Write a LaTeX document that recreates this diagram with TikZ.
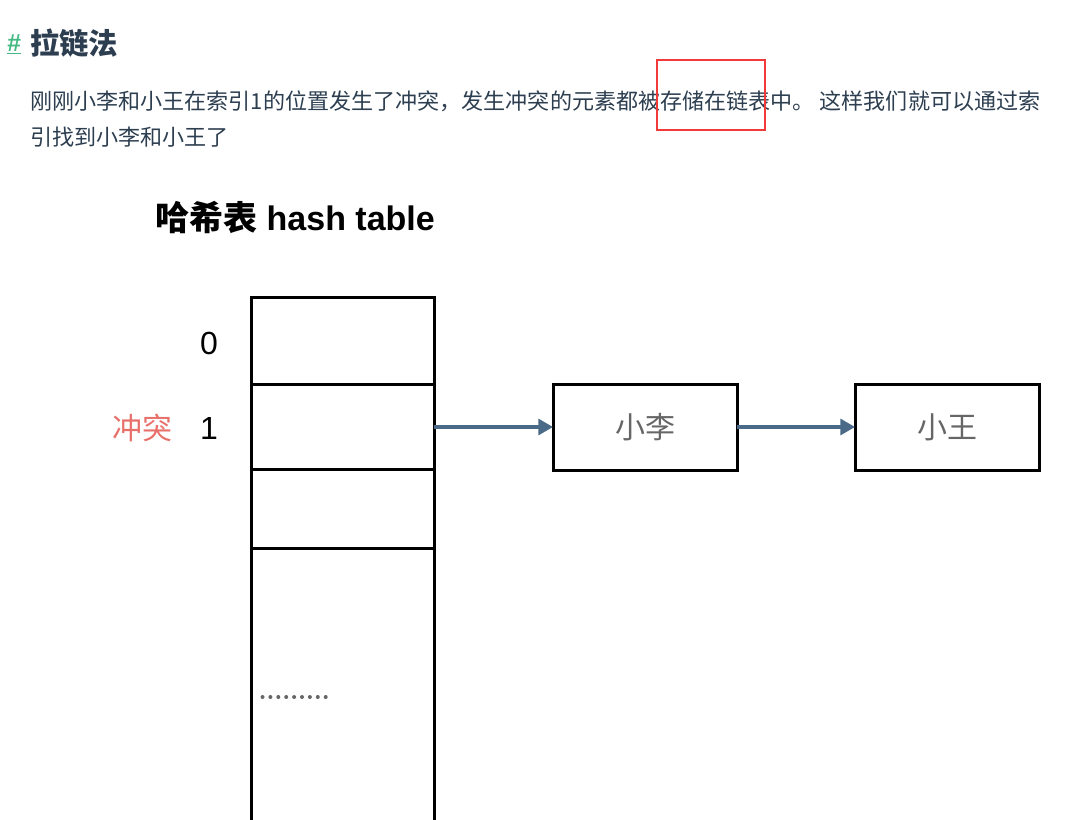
\documentclass[tikz,border=0pt]{standalone}
\usepackage{fontspec}
\setmainfont{Liberation Sans}
\newfontfamily\cjk{Noto Sans CJK SC}
\usetikzlibrary{arrows.meta}
\definecolor{txt}{HTML}{2C3E50}
\definecolor{vgreen}{HTML}{42B983}
\definecolor{hlred}{HTML}{F23A3A}
\definecolor{conflict}{HTML}{E8706A}
\definecolor{arr}{HTML}{4B6A88}
\definecolor{boxtext}{HTML}{666666}
\definecolor{dotgray}{HTML}{666666}
\begin{document}
\begin{tikzpicture}[x=0.75pt,y=-0.75pt,
  cell/.style={draw, line width=2.25pt, minimum width=137.25pt, inner sep=0pt, outer sep=0pt},
  listbox/.style={draw, line width=2.25pt, minimum width=138pt, minimum height=64.5pt,
    inner sep=0pt, outer sep=0pt, text=boxtext, font=\cjk\fontsize{22.5}{26}\selectfont},
  link/.style={draw=arr, line width=2.4pt, -{Triangle[length=11pt,width=12pt]}},
  para/.style={anchor=west, inner sep=0pt, text=txt, font=\cjk\fontsize{16.55}{20}\selectfont},
  idx/.style={inner sep=0pt, font=\fontsize{24}{28}\selectfont}]
\useasboundingbox (0,0) rectangle (1070,820);
\clip (0,0) rectangle (1070,820);

% heading
\node[anchor=west, inner sep=0pt, text=vgreen, font=\bfseries\fontsize{18.5}{22}\selectfont] (hash) at (7,44) {\underline{\#}};
\node[anchor=west, inner sep=0pt, text=txt, font=\cjk\bfseries\fontsize{22}{26}\selectfont] (head) at (30,43) {拉链法};

% paragraph
\node[para] (l1) at (30,101) {刚刚小李和小王在索引1的位置发生了冲突，发生冲突的元素都被存储在链表中。 这样我们就可以通过索};
\node[para] (l2) at (30,137) {引找到小李和小王了};
\node[draw=hlred, line width=1.6pt, minimum width=81pt, minimum height=52.5pt, inner sep=0pt, outer sep=0pt] (mark) at (711,95) {};

% title
\node[anchor=west, inner sep=0pt, font=\bfseries\fontsize{25.5}{30}\selectfont] (title) at (155,218) {{\cjk 哈希表} hash table};

% table cells
\node[cell, minimum height=65.25pt] (c0) at (342.5,340.5) {};
\node[cell, minimum height=63.75pt] (c1) at (342.5,426.5) {};
\node[cell, minimum height=59.25pt] (c2) at (342.5,508.5) {};
\node[cell, minimum height=264pt] (c3) at (342.5,724) {};

% index labels
\node[idx] (i0) at (209,343) {0};
\node[idx] (i1) at (209,428) {1};
\node[inner sep=0pt, text=conflict, font=\cjk\fontsize{22.5}{26}\selectfont] (cf) at (142,428) {冲突};

% dots (ellipsis)
\foreach \i in {0,...,8} \fill[dotgray] (262.5+\i*7.9,697) circle[radius=1.5pt];

% linked list
\node[listbox] (li) at (645,427) {小李};
\node[listbox] (wang) at (947,427) {小王};
\draw[link] (c1.east |- li.west) -- (li.west);
\draw[link] (li.east) -- (wang.west);
\end{tikzpicture}
\end{document}
